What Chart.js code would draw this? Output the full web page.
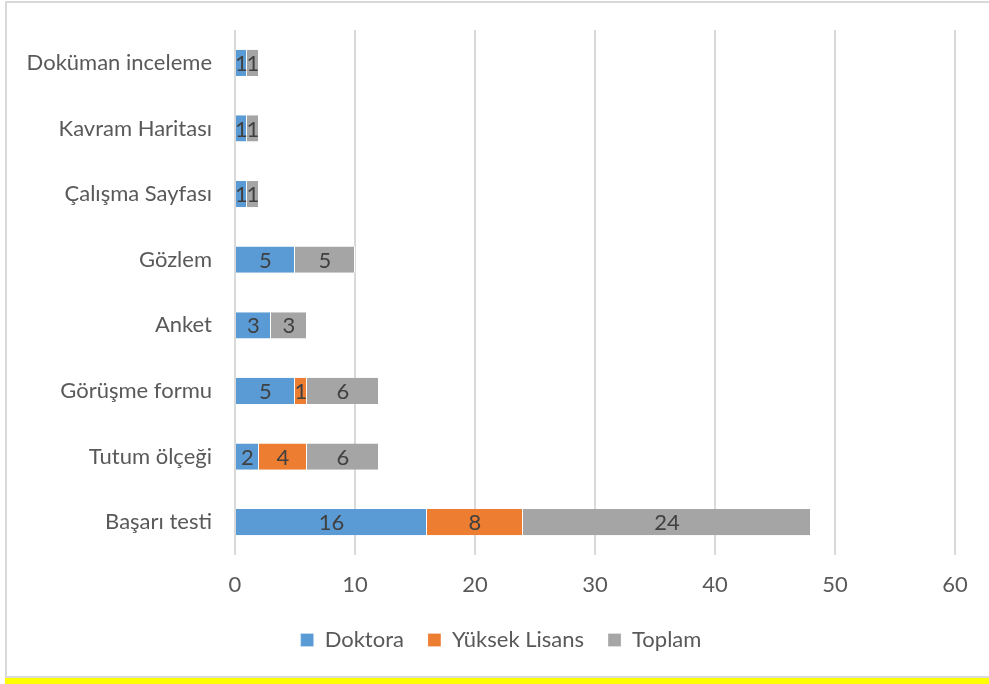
<!DOCTYPE html>
<html>
<head>
<meta charset="utf-8">
<script src="https://cdn.jsdelivr.net/npm/chart.js@4/dist/chart.umd.min.js"></script>
<style>
    body { margin: 0; background: #fff; width: 989px; height: 684px; overflow: hidden; position: relative; }
    #frame { position: absolute; left: 5px; top: 1px; width: 990px; height: 673px;
             border-left: 2px solid #d9d9d9; border-top: 2px solid #d9d9d9; border-bottom: 2px solid #d9d9d9; }
    #yellow { position: absolute; left: 5px; top: 678px; width: 984px; height: 6px; background: #ffff00; }
    #wrap { position: absolute; left: 0; top: 0; width: 989px; height: 684px; }
</style>
</head>
<body>
<div id="frame"></div>
<div id="yellow"></div>
<div id="wrap"><canvas id="chart" width="989" height="684"></canvas></div>
<script>
var categories = ["Doküman inceleme", "Kavram Haritası", "Çalışma Sayfası", "Gözlem",
    "Anket", "Görüşme formu", "Tutum ölçeği", "Başarı testi"];
var doktora = [1, 1, 1, 5, 3, 5, 2, 16];
var yuksekLisans = [0, 0, 0, 0, 0, 1, 4, 8];
var toplam = [1, 1, 1, 5, 3, 6, 6, 24];
var xTicks = [0, 10, 20, 30, 40, 50, 60];

var fontName = "Lato, 'Open Sans', sans-serif";

// draw the value in the middle of each bar segment
var barLabels = {
    id: 'barLabels',
    afterDatasetsDraw: function (chart) {
        var ctx = chart.ctx;
        ctx.save();
        ctx.font = "22px " + fontName;
        ctx.fillStyle = "#404040";
        ctx.textAlign = "center";
        ctx.textBaseline = "middle";
        chart.data.datasets.forEach(function (ds, i) {
            var meta = chart.getDatasetMeta(i);
            meta.data.forEach(function (bar, j) {
                var v = ds.data[j];
                if (!v) return;
                var x = (bar.x + bar.base) / 2;
                ctx.fillText(String(v), x, bar.y + 1);
            });
        });
        ctx.restore();
    }
};

// the legend sits a bit right of the chart centre in the original
var legendShift = {
    id: 'legendShift',
    afterLayout: function (chart) {
        chart.legend.left = 13;
        chart.legend.right = 989;
    }
};

var chart = new Chart(document.getElementById("chart"), {
    type: 'bar',
    data: {
        labels: categories,
        datasets: [
            { label: "Doktora", data: doktora, backgroundColor: "#5b9bd5" },
            { label: "Yüksek Lisans", data: yuksekLisans, backgroundColor: "#ed7d31" },
            { label: "Toplam", data: toplam, backgroundColor: "#a5a5a5" }
        ]
    },
    options: {
        indexAxis: 'y',
        responsive: false,
        animation: false,
        layout: { padding: { top: 30, right: 34, left: 0, bottom: 23 } },
        datasets: {
            bar: { categoryPercentage: 1, barPercentage: 0.4, borderWidth: { right: 1 }, borderColor: "#ffffff", borderSkipped: false }
        },
        scales: {
            x: {
                stacked: true,
                min: 0,
                max: 60,
                afterBuildTicks: function (scale) {
                    scale.ticks = xTicks.map(function (v) { return { value: v }; });
                },
                afterFit: function (scale) {
                    scale.height = 50;
                    scale.paddingLeft = 0;
                    scale.paddingRight = 0;
                },
                grid: { color: "#d9d9d9", lineWidth: 2, drawTicks: false },
                border: { display: false },
                ticks: { color: "#595959", padding: 17, font: { family: fontName, size: 22 } }
            },
            y: {
                stacked: true,
                afterFit: function (scale) {
                    scale.width = 235;
                    scale.paddingTop = 0;
                    scale.paddingBottom = 0;
                },
                grid: { display: false, drawTicks: false },
                border: { display: false },
                ticks: { color: "#595959", padding: 23, font: { family: fontName, size: 22 } }
            }
        },
        plugins: {
            legend: {
                position: 'bottom',
                labels: {
                    color: "#595959",
                    boxWidth: 13,
                    boxHeight: 13,
                    padding: 24,
                    font: { family: fontName, size: 22 }
                }
            },
            tooltip: { enabled: false }
        }
    },
    plugins: [barLabels, legendShift]
});
</script>
</body>
</html>
